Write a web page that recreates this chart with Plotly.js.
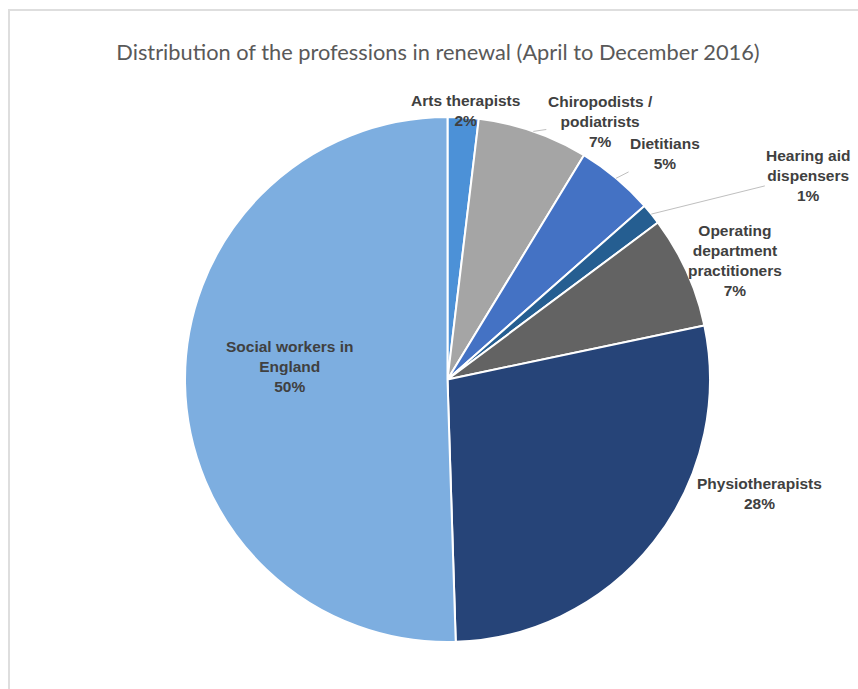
<!DOCTYPE html>
<html>
<head>
<meta charset="utf-8">
<script src="https://cdn.plot.ly/plotly-3.0.1.min.js"></script>
<style>
  html, body { margin: 0; padding: 0; background: #ffffff; }
  #chart { width: 858px; height: 689px; position: relative; }
  #frame { position: absolute; left: 8px; top: 9px; width: 900px; height: 800px;
           border: 2px solid #dedede; pointer-events: none; box-sizing: border-box; }
</style>
</head>
<body>
<div id="chart"></div>
<div id="frame"></div>
<script>
// ---- data ----
const professions = [
  "Arts therapists",
  "Chiropodists /<br>podiatrists",
  "Dietitians",
  "Hearing aid<br>dispensers",
  "Operating<br>department<br>practitioners",
  "Physiotherapists",
  "Social workers in<br>England"
];
const shares = [1.9, 6.8, 4.8, 1.3, 6.9, 27.8, 50.5];
const shareLabels = ["2%", "7%", "5%", "1%", "7%", "28%", "50%"];

// ---- style ----
const sliceColors = ["#4C91D7", "#A5A5A5", "#4472C4", "#255E91", "#636363", "#264478", "#7DAEE0"];
// label placement: anchor radius (fraction of pie radius) and pixel offset of text from anchor
const labelRadius = [1.0, 1.0, 1.0, 1.0, 1.0, 1.0, 0.6];
const labelOffsetX = [2, 67, 49, 157, 48, 106, 0];
const labelOffsetY = [-7, -10, -25, -39, -11, -48, -15];
const hasLeader = [false, true, true, true, false, false, false];

const total = shares.reduce((a, b) => a + b, 0);
let cum = 0;
const annotations = shares.map((v, i) => {
  const mid = (cum + v / 2) / total * 2 * Math.PI;
  cum += v;
  const k = labelRadius[i];
  return {
    xref: "paper", yref: "paper",
    x: 0.5 + 0.5 * k * Math.sin(mid),
    y: 0.5 + 0.5 * k * Math.cos(mid),
    text: "<b>" + professions[i] + "<br>" + shareLabels[i] + "</b>",
    showarrow: true,
    arrowhead: 0,
    arrowwidth: 1,
    arrowcolor: hasLeader[i] ? "#BFBFBF" : "rgba(0,0,0,0)",
    standoff: 0,
    ax: labelOffsetX[i],
    ay: labelOffsetY[i],
    align: "center",
    xanchor: "center",
    yanchor: "middle",
    font: { family: "Liberation Sans, Arial, sans-serif", size: 15.5, color: "#404040" }
  };
});

const trace = {
  type: "pie",
  labels: professions,
  values: shares,
  sort: false,
  direction: "clockwise",
  rotation: 0,
  textinfo: "none",
  hoverinfo: "label+percent",
  marker: { colors: sliceColors, line: { color: "#ffffff", width: 2 } },
  domain: { x: [0, 1], y: [0, 1] },
  automargin: false
};

const layout = {
  width: 858,
  height: 689,
  margin: { l: 185, r: 148, t: 117, b: 47 },
  paper_bgcolor: "#ffffff",
  showlegend: false,
  title: {
    text: "Distribution of the professions in renewal (April to December 2016)",
    x: 438 / 858,
    xanchor: "center",
    xref: "container",
    y: 1 - 52 / 689,
    yanchor: "middle",
    yref: "container",
    font: { family: "Lato, Open Sans, sans-serif", size: 21.8, color: "#595959" }
  },
  annotations: annotations
};

Plotly.newPlot("chart", [trace], layout, { displayModeBar: false, staticPlot: true });
</script>
</body>
</html>
